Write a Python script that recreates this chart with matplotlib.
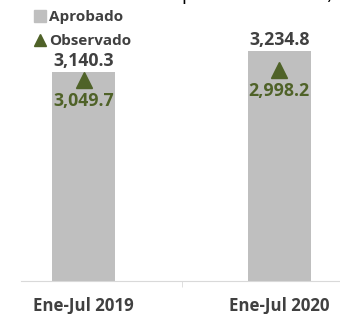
import matplotlib.pyplot as plt
from matplotlib.lines import Line2D

categories = ['Ene-Jul 2019', 'Ene-Jul 2020']
aprobado = [3140.3, 3234.8]
observado = [3049.7, 2998.2]

gray = '#BFBFBF'
green = '#4F6228'
dark = '#404040'
font = 'Open Sans'

fig = plt.figure(figsize=(3.4, 3.14), dpi=100)
ax = fig.add_axes([21 / 340, 1 - 281 / 314, 321 / 340, 261 / 314])
x = range(len(categories))

ax.bar(x, aprobado, width=0.32, color=gray, zorder=2)
ax.set_ylim(2200, 2200 + 261 / 0.2222)
ax.set_xlim(-0.32, 1.32)
for i, v in enumerate(aprobado):
    ax.annotate(f'{v:,.1f}', (i, v), xytext=(0, 8), textcoords='offset points',
                ha='center', va='center', fontsize=12.8, fontweight='bold',
                color=dark, family=font)

for s in ['top', 'left', 'right']:
    ax.spines[s].set_visible(False)
ax.spines['bottom'].set_color('#D9D9D9')
ax.set_yticks([])
ax.set_xticks(list(x))
ax.set_xticklabels(categories, fontsize=12.2, fontweight='bold', color=dark, family=font)
ax.tick_params(axis='x', length=0, pad=11.5)
ax.set_xticks([0.5], minor=True)
ax.tick_params(axis='x', which='minor', length=4, color='#D9D9D9')

# observed values on a second scale
ax2 = ax.twinx()
ax2.set_ylim(3049.7 + 201 / 0.1942, 2998.2 - 50 / 0.1942)
ax2.plot(x, observado, linestyle='none', marker='^', markersize=12, color=green, zorder=3)
for i, v in enumerate(observado):
    ax2.annotate(f'{v:,.1f}', (i, v), xytext=(0, -15), textcoords='offset points',
                 ha='center', va='center', fontsize=12.8, fontweight='bold',
                 color=green, family=font)
ax2.axis('off')

handles = [Line2D([], [], linestyle='none', marker='s', markersize=8, color=gray),
           Line2D([], [], linestyle='none', marker='^', markersize=9, color=green)]
fig.legend(handles, ['Aprobado', 'Observado'], loc='upper left',
           bbox_to_anchor=(34 / 340, 1 - 10 / 314), frameon=False,
           prop={'family': font, 'weight': 'bold', 'size': 11},
           labelcolor=dark, handlelength=0.8, handletextpad=0.2,
           labelspacing=0.65, borderaxespad=0, borderpad=0)

fig.text(333 / 340, 1 - 0.5 / 314, '(Miles de millones de pesos corrientes)',
         ha='right', va='baseline', fontsize=12.5, color='black')

fig.savefig('out.png', dpi=100)
